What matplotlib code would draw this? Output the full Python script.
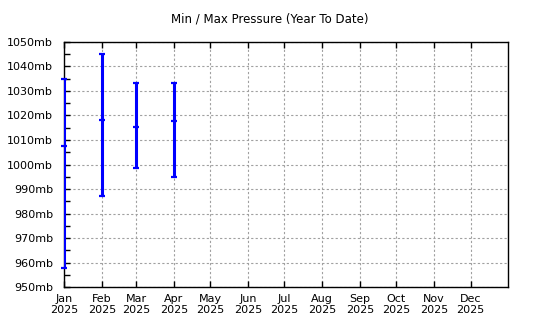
import numpy as np
import pandas as pd
import matplotlib
matplotlib.use('Agg')
import matplotlib.pyplot as plt
import matplotlib.dates as mdates
from matplotlib.ticker import MultipleLocator, FuncFormatter

# monthly pressure (mb), year to date
months = ['2025-01-01', '2025-02-01', '2025-03-01', '2025-04-01']
max_mb = [1034.8, 1045.0, 1033.3, 1033.3]
avg_mb = [1007.5, 1018.1, 1015.3, 1017.7]
min_mb = [957.9, 987.2, 998.7, 995.0]

tick_months = pd.date_range('2025-01-01', '2025-12-01', freq='MS')
tick_labels = [d.strftime('%b') + '\n' + d.strftime('%Y') for d in tick_months]


def main():
	plt.rcParams['font.family'] = ['DejaVu Sans']
	fig = plt.figure(figsize=(5.4, 3.3), dpi=100)
	ax = fig.add_axes([0.119, 0.1294, 0.8224, 0.7442])

	x = pd.to_datetime(months)
	ax.vlines(x, min_mb, max_mb, color='#0000ff', linewidth=2.2, zorder=3)
	for vals in (max_mb, avg_mb, min_mb):
		ax.plot(x, vals, linestyle='none', marker='_', markersize=4.5,
			markeredgewidth=1.6, color='#0000ff', zorder=4, clip_on=False)

	ax.set_xlim(pd.Timestamp('2025-01-01'), pd.Timestamp('2026-01-01'))
	ax.set_ylim(950, 1050)

	ax.set_xticks(tick_months)
	ax.set_xticklabels(tick_labels, fontsize=8.0, linespacing=1.15)
	ax.yaxis.set_major_locator(MultipleLocator(10))
	ax.yaxis.set_minor_locator(MultipleLocator(5))
	ax.yaxis.set_major_formatter(FuncFormatter(lambda v, p: '%dmb' % v))
	ax.tick_params(axis='y', which='both', direction='in', length=4, width=1,
		left=True, right=False, labelsize=8.0, pad=8)
	ax.tick_params(axis='x', direction='in', length=4, width=1,
		top=True, bottom=True, pad=5)

	ax.grid(True, which='major', color='#a0a0a0', linestyle=(0, (2, 2)), linewidth=0.8)
	for s in ax.spines.values():
		s.set_linewidth(1)

	fig.text(0.5, 0.942, 'Min / Max Pressure (Year To Date)', ha='center', va='center',
		fontsize=8.5)

	plt.savefig('out.png', dpi=100)


if __name__ == '__main__':
	main()
